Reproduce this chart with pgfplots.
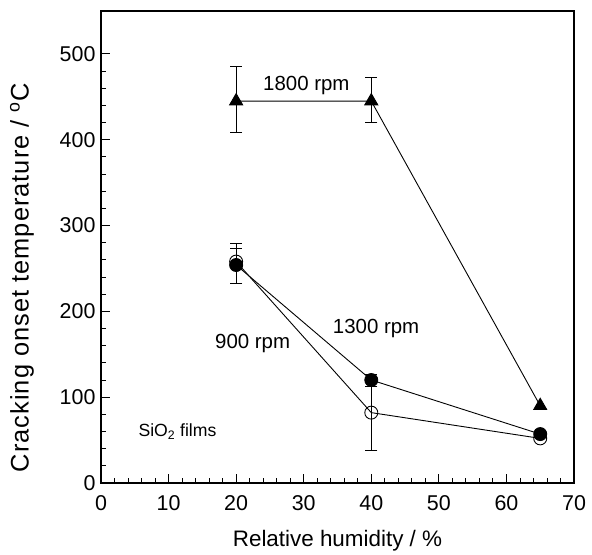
\documentclass[border=0pt]{standalone}
\usepackage{pgfplots}
\pgfplotsset{compat=1.18}
\usepackage{fontspec}
\setmainfont{Liberation Sans}
\newfontfamily\ylabfont[LetterSpace=4]{Liberation Sans}
\begin{document}
\begin{tikzpicture}
\begin{axis}[
  scale only axis,
  width=473bp, height=472bp,
  xmin=0, xmax=70, ymin=0, ymax=550,
  xtick={0,10,...,70}, ytick={0,100,...,500},
  minor x tick num=4, minor y tick num=4,
  tick align=inside,
  xtick pos=bottom, ytick pos=left,
  major tick length=9bp, minor tick length=5bp,
  axis line style={line width=1.3pt},
  every tick/.style={black, line width=0.9pt},
  /pgf/number format/assume math mode=true,
  tick label style={font=\fontsize{21.5}{24}\selectfont},
  xticklabel style={yshift=-9bp},
  yticklabel style={xshift=-2bp},
  xlabel={Relative humidity / \%},
  ylabel={Cracking onset temperature / \textsuperscript{o}C},
  xlabel style={font=\fontsize{22.5}{26}\selectfont, at={(axis description cs:0.5,-0.123)}, anchor=center},
  ylabel style={font=\ylabfont\fontsize{25.5}{28}\selectfont, at={(axis description cs:-0.167,0.435)}, anchor=center, rotate=0},
  error bars/y dir=both, error bars/y explicit,
  error bars/error bar style={line width=0.9pt, black},
  error bars/error mark options={rotate=90, mark size=6bp, line width=0.9pt, black},
  clip=false,
]
\addplot[black, line width=0.9pt, mark=triangle*, mark size=7.5bp, mark options={solid, fill=black}]
  coordinates {(20,445) += (0,40) -= (0,37) (40,445) += (0,27) -= (0,25) (65,90)};
\addplot[black, line width=0.9pt, mark=o, mark size=6.5bp, mark options={solid, line width=0.9pt, fill=white}]
  coordinates {(20,258) += (0,21) -= (0,25) (40,82) += (0,44) -= (0,44) (65,52)};
\addplot[black, line width=0.9pt, mark=*, mark size=6.5bp, mark options={solid, fill=black}]
  coordinates {(20,254) += (0,19) -= (0,21) (40,120) += (0,7) -= (0,8) (65,57)};
\node[font=\fontsize{20.5}{24}\selectfont, anchor=base west, inner sep=0pt] at (axis cs:23.98,457) {1800 rpm};
\node[font=\fontsize{20.5}{24}\selectfont, anchor=base west, inner sep=0pt] at (axis cs:34.3,174.4) {1300 rpm};
\node[font=\fontsize{20.5}{24}\selectfont, anchor=base west, inner sep=0pt] at (axis cs:16.87,156.6) {900 rpm};
\node[font=\fontsize{17.7}{20}\selectfont, anchor=base west, inner sep=0pt] at (axis cs:5.52,53.8) {SiO\textsubscript{2} films};
\path (rel axis cs:0,0) ++(-101bp,-69bp) coordinate (bbsw);
\path (rel axis cs:1,1) ++(18bp,11bp) coordinate (bbne);
\path (bbsw) rectangle (bbne);
\end{axis}
\end{tikzpicture}
\end{document}
